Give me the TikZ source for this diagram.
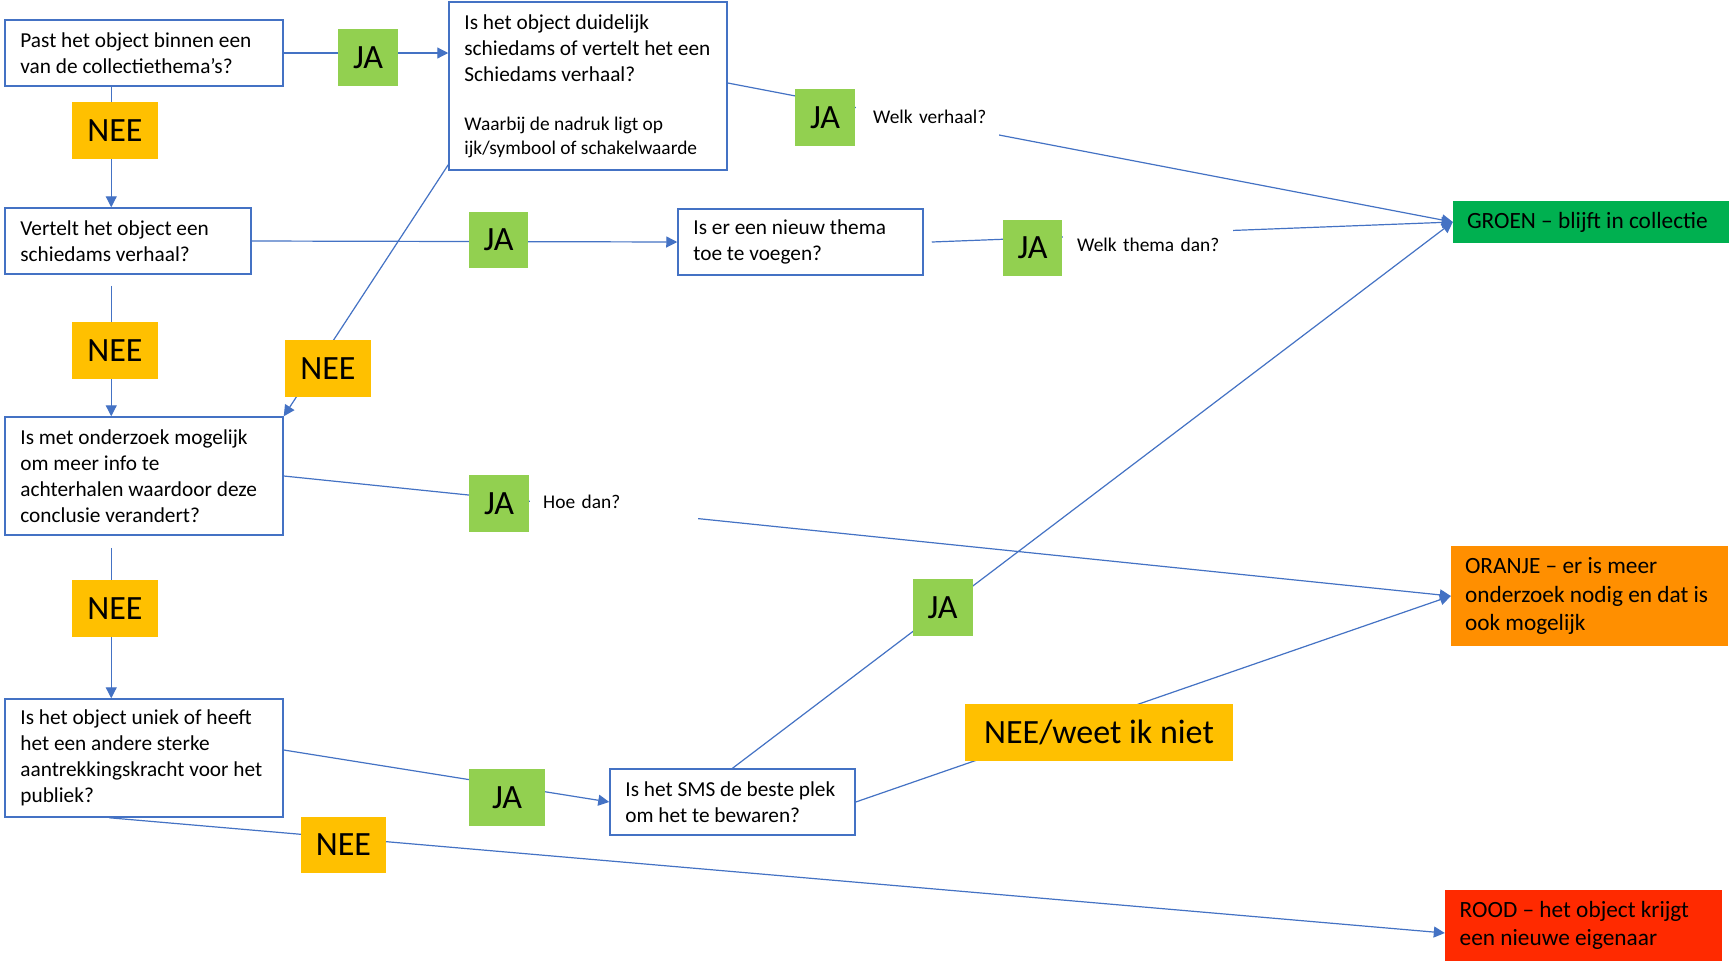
\documentclass[tikz,border=0pt]{standalone}
\usepackage{fontspec}
\setmainfont{Carlito}
\usetikzlibrary{arrows.meta,calc}
\definecolor{bblue}{HTML}{4472C4}
\definecolor{jagreen}{HTML}{92D050}
\definecolor{neeyel}{HTML}{FFC000}
\definecolor{groen}{HTML}{00B050}
\definecolor{oranje}{HTML}{FF8F00}
\definecolor{rood}{HTML}{FF2A00}
\newcommand{\boxtext}[3]{\parbox{#1}{\raggedright\leftskip=#2\relax #3}}
\begin{document}
\begin{tikzpicture}[x=1pt,y=-1pt,
  qbox/.style={draw=bblue, line width=1.5pt, fill=white, inner sep=0pt,
    font=\fontsize{21.3}{26}\selectfont},
  outbox/.style={inner sep=0pt, font=\fontsize{23.3}{28.3}\selectfont},
  lab/.style={inner sep=0pt, font=\fontsize{34}{40}\selectfont},
  ja/.style={lab, fill=jagreen, minimum width=60pt, minimum height=57pt},
  nee/.style={lab, fill=neeyel, minimum width=86pt, minimum height=57pt},
  txt/.style={inner sep=0pt, fill=white, align=left, anchor=base west, font=\fontsize{19.4}{23}\selectfont},
  conn/.style={draw=bblue, line width=1.2pt},
  arr/.style={conn, -{Triangle[length=11pt,width=11pt]}}]
\useasboundingbox[fill=white] (0,0) rectangle (1730,962);

% question boxes
\node[qbox, minimum width=278pt, minimum height=66pt] (q1) at (144,53) {\boxtext{278pt}{15.4pt}{Past het object binnen een\\van de collectiethema’s?}};
\node[qbox, minimum width=246pt, minimum height=66pt] (q2) at (128,241) {\boxtext{246pt}{15.4pt}{Vertelt het object een\\schiedams verhaal?}};
\node[qbox, minimum width=278pt, minimum height=168pt] (q3) at (588,86) {\boxtext{278pt}{15.4pt}{Is het object duidelijk\\schiedams of vertelt het een\\Schiedams verhaal?\par\vspace{25pt}\fontsize{19.4}{24}\selectfont Waarbij de nadruk ligt op\\ijk/symbool of schakelwaarde}};
\node[qbox, minimum width=245pt, minimum height=66pt] (q4) at (800.5,242) {\boxtext{245pt}{15.4pt}{Is er een nieuw thema\\toe te voegen?}};
\node[qbox, minimum width=278pt, minimum height=118pt] (q5) at (144,476) {\boxtext{278pt}{15.4pt}{Is met onderzoek mogelijk\\om meer info te\\achterhalen waardoor deze\\conclusie verandert?}};
\node[qbox, minimum width=278pt, minimum height=118pt] (q6) at (144,758) {\boxtext{278pt}{15.4pt}{Is het object uniek of heeft\\het een andere sterke\\aantrekkingskracht voor het\\publiek?}};
\node[qbox, minimum width=245pt, minimum height=66pt] (sms) at (732.5,802) {\boxtext{245pt}{15.4pt}{Is het SMS de beste plek\\om het te bewaren?}};

% outcomes
\node[outbox, fill=groen, minimum width=276pt, minimum height=42pt] (groen) at (1591,222) {\boxtext{276pt}{14pt}{GROEN – blijft in collectie}};
\node[outbox, fill=oranje, minimum width=277pt, minimum height=100pt] (oranje) at (1589.5,596) {\boxtext{277pt}{14pt}{ORANJE – er is meer\\onderzoek nodig en dat is\\ook mogelijk}};
\node[outbox, fill=rood, minimum width=277pt, minimum height=71pt] (rood) at (1583.5,925.5) {\boxtext{277pt}{14.7pt}{ROOD – het object krijgt\\een nieuwe eigenaar}};

% connectors
\draw[arr] (q1.east) -- (q1.east -| q3.west);
\draw[arr] ($(q1.south west)+(107,0)$) -- ($(q2.north west)+(107,0)$);
\draw[arr] (q2.east) -- (q4.west);
\draw[arr] ([yshift=3pt]q3.east) -- (groen.west);
\draw[arr] ([xshift=8pt]q4.east) -- (groen.west);
\draw[arr] (sms.north) -- (groen.west);
\draw[arr] ([yshift=6pt]q3.south west) -- (q5.north east);
\draw[arr] ($(q2.south west)+(107,11)$) -- ($(q5.north west)+(107,0)$);
\draw[arr] (q5.east) -- (oranje.west);
\draw[arr] (sms.east) -- (oranje.west);
\draw[arr] ($(q5.south west)+(107,12)$) -- ($(q6.north west)+(107,0)$);
\draw[arr] ([yshift=8pt]q6.east) -- (sms.west);
\draw[arr] ($(q6.south west)!0.375!(q6.south east)$) -- ([yshift=-7.5pt]rood.west);

% labels
\node[ja] (ja1) at (368,57.5) {JA};
\node[nee] (nee1) at (115,130.5) {NEE};
\node[ja] (ja2) at (825,117.5) {JA};
\node[ja, minimum width=59pt, minimum height=56pt] (ja3) at (498.5,240) {JA};
\node[ja, minimum width=59pt, minimum height=56pt] (ja4) at (1032.5,248) {JA};
\node[nee] (nee2) at (115,350.5) {NEE};
\node[nee] (nee4) at (328,368.5) {NEE};
\node[ja] (ja6) at (499,503.5) {JA};
\node[nee] (nee3) at (115,608.5) {NEE};
\node[ja] (ja5) at (942.5,607.5) {JA};
\node[ja, minimum width=76pt] (ja7) at (507,797.5) {JA};
\node[nee, minimum width=85pt, minimum height=56pt] (nee5) at (343.5,845) {NEE};
\node[nee, minimum width=268pt] (neeweet) at (1099,732.5) {NEE/weet ik niet};

% free texts
\node[txt, text width=143pt, text height=18pt, text depth=14pt] (welkv) at (856,123) {\hspace*{17pt}Welk verhaal?};
\node[txt, text width=170pt, text height=25.5pt, text depth=10.5pt] (welkt) at (1063,251.5) {\hspace*{14pt}Welk thema dan?};
\node[txt, text width=168pt, text height=19.5pt, text depth=13.5pt] (hoedan) at (530,508.5) {\hspace*{13pt}Hoe dan?};
\end{tikzpicture}
\end{document}
